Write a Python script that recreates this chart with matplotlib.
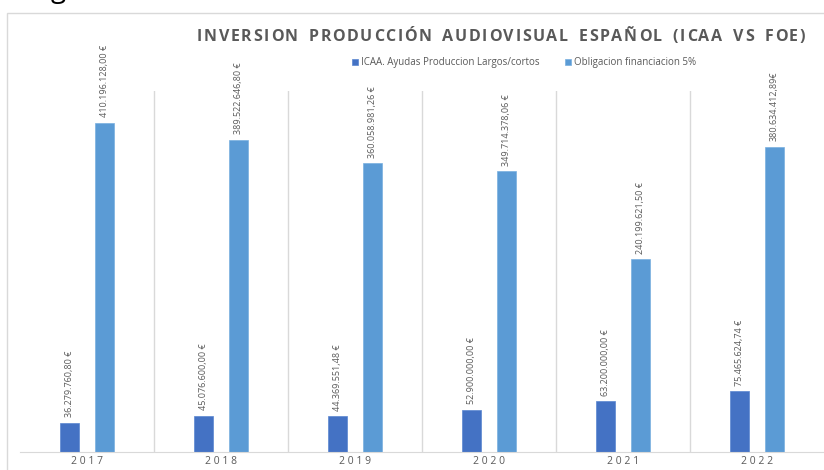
import matplotlib.pyplot as plt
from matplotlib.patches import Rectangle
import numpy as np

years = ["2017", "2018", "2019", "2020", "2021", "2022"]
icaa = [36279760.80, 45076600.00, 44369551.48, 52900000.00, 63200000.00, 75465624.74]
foe = [410196128.00, 389522646.80, 360058981.26, 349714378.06, 240199621.50, 380634412.89]
icaa_labels = ["36.279.760,80 €", "45.076.600,00 €", "44.369.551,48 €",
               "52.900.000,00 €", "63.200.000,00 €", "75.465.624,74 €"]
foe_labels = ["410.196.128,00 €", "389.522.646,80 €", "360.058.981,26 €",
              "349.714.378,06 €", "240.199.621,50 €", "380.634.412,89€"]
title = "INVERSION PRODUCCIÓN AUDIOVISUAL ESPAÑOL (ICAA VS FOE)"

plt.rcParams['font.family'] = ['Open Sans', 'DejaVu Sans']

dark = "#4472C4"
light = "#5B9BD5"
grey_txt = "#595959"
grey_line = "#d9d9d9"

fig = plt.figure(figsize=(8.24, 4.70), dpi=100)
ax = fig.add_axes([20 / 824, 18 / 470, 804 / 824, 361 / 470])

x = np.arange(len(years))
w = 0.142
ax.bar(x - 0.13, icaa, w, color=dark, edgecolor="#5a86d0", linewidth=0.5,
       label="ICAA. Ayudas Produccion Largos/cortos")
ax.bar(x + 0.13, foe, w, color=light, edgecolor="#79b0e0", linewidth=0.5,
       label="Obligacion financiacion 5%")

for i in range(len(years)):
    ax.annotate(icaa_labels[i], (x[i] - 0.13, icaa[i]), xytext=(0, 4),
                textcoords="offset points", rotation=90, ha="center", va="bottom",
                fontsize=6.5, color=grey_txt)
    ax.annotate(foe_labels[i], (x[i] + 0.13, foe[i]), xytext=(0, 4),
                textcoords="offset points", rotation=90, ha="center", va="bottom",
                fontsize=6.5, color=grey_txt, annotation_clip=False)

ax.set_xlim(-0.5, len(years) - 0.5)
ax.set_ylim(0, 450e6)
for b in np.arange(0.5, len(years) - 0.5, 1.0):
    ax.axvline(b, color=grey_line, linewidth=1, zorder=0)

for s in ["top", "right", "left"]:
    ax.spines[s].set_visible(False)
ax.spines["bottom"].set_color(grey_line)
ax.set_yticks([])
ax.set_xticks(x)
ax.set_xticklabels([" ".join(list(y)) for y in years], fontsize=7.5, color=grey_txt)
ax.tick_params(axis="x", length=0, pad=3)

# title with wide letter spacing, drawn char by char
renderer = fig.canvas.get_renderer()
xpos = 197
for ch in title:
    if ch == " ":
        xpos += 9
        continue
    t = fig.text(xpos / 824, 1 - 37 / 470, ch, fontsize=11.5, fontweight="bold",
                 color=grey_txt, ha="left", va="center")
    xpos += t.get_window_extent(renderer).width + 1.65

fig.legend(loc="center", bbox_to_anchor=(0.636, 0.866), ncol=2, frameon=False,
           fontsize=7, labelcolor=grey_txt, handlelength=0.65, handleheight=0.65,
           handletextpad=0.3, columnspacing=2.6)

fig.patches.append(Rectangle((7 / 824, -0.1), 1.2, (470 - 13) / 470 + 0.1,
                             transform=fig.transFigure, fill=False,
                             edgecolor=grey_line, linewidth=1))
fig.text(0.062, 1.006, "g", fontsize=20, color="black", ha="left", va="baseline")

fig.savefig("out.png", dpi=100)
